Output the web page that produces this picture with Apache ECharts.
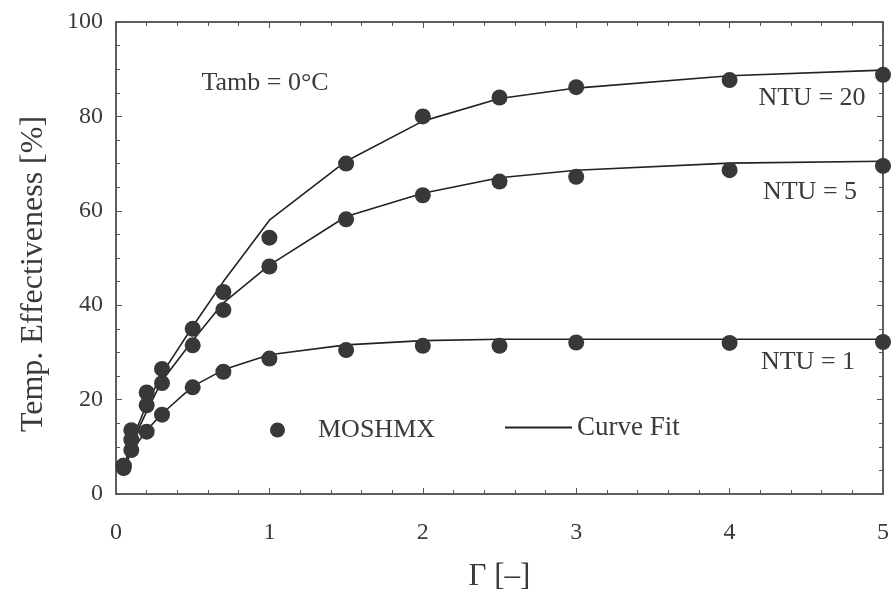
<!DOCTYPE html>
<html>
<head>
<meta charset="utf-8">
<script src="https://cdn.jsdelivr.net/npm/echarts@6/dist/echarts.min.js"></script>
<style>
html,body{margin:0;padding:0;background:#fff;}
#chart{width:894px;height:592px;}
</style>
</head>
<body>
<div id="chart"></div>
<script>
// Γ values of the simulated points (MOSHMX)
const gammaValues = [0.05, 0.1, 0.2, 0.3, 0.5, 0.7, 1, 1.5, 2, 2.5, 3, 4, 5];
// MOSHMX points [%]
const ntu20Points = [6, 13.5, 21.5, 26.5, 35, 42.8, 54.3, 70, 80, 84, 86.2, 87.7, 88.8];
const ntu5Points  = [6, 11.5, 18.8, 23.5, 31.5, 39, 48.2, 58.2, 63.3, 66.2, 67.2, 68.6, 69.5];
const ntu1Points  = [5.5, 9.3, 13.2, 16.8, 22.6, 25.9, 28.7, 30.5, 31.4, 31.4, 32.1, 32, 32.2];
// Curve fit values [%]
const ntu20Fit = [5.5, 11, 19, 25.5, 35.5, 45, 58, 70.5, 79, 83.8, 86, 88.6, 89.8];
const ntu5Fit  = [5.5, 10.5, 17.5, 24, 32.5, 40.5, 48.5, 58.8, 63.7, 67, 68.6, 70.1, 70.5];
const ntu1Fit  = [5, 9, 13.5, 17, 22.8, 26.3, 29.5, 31.6, 32.5, 32.8, 32.8, 32.8, 32.8];

const xTicks = [0, 1, 2, 3, 4, 5];
const yTicks = [0, 20, 40, 60, 80, 100];
const curveLabels = ['NTU = 20', 'NTU = 5', 'NTU = 1'];
const annotation = 'Tamb = 0°C';
const xTitle = 'Γ [–]';
const yTitle = 'Temp. Effectiveness [%]';

const pair = (xs, ys) => xs.map((x, i) => [x, ys[i]]);

const FONT = '"Liberation Serif", "DejaVu Serif", serif';
const TXT = '#3a3a3a';
const AX = '#555';

const chart = echarts.init(document.getElementById('chart'));

function fitSeries(ys) {
  return {
    type: 'line', name: 'Curve Fit', data: pair(gammaValues, ys),
    xAxisIndex: 0, yAxisIndex: 0,
    symbol: 'none', smooth: false, z: 2,
    itemStyle: {color: '#222'},
    lineStyle: {color: '#222', width: 1.6}
  };
}
function pointSeries(ys) {
  return {
    type: 'scatter', name: 'MOSHMX', data: pair(gammaValues, ys),
    xAxisIndex: 0, yAxisIndex: 0,
    symbol: 'circle', symbolSize: 16, z: 3,
    itemStyle: {color: '#383838', opacity: 1}
  };
}

const X0 = xTicks[0], X1 = xTicks[xTicks.length - 1];
const Y0 = yTicks[0], Y1 = yTicks[yTicks.length - 1];
const lineStyle = {color: AX, width: 1.5};
const noTick = {show: false};
const tick = {show: true, inside: false, length: 6, lineStyle: {color: AX, width: 1}};
const xMinor = {show: true, splitNumber: 5, length: 4, lineStyle: {color: AX, width: 1}};
const yMinor = {show: true, splitNumber: 4, length: 4, lineStyle: {color: AX, width: 1}};
const hiddenLabel = {show: false};
const noSplit = {show: false};

chart.setOption({
  animation: false,
  backgroundColor: '#fff',
  textStyle: {fontFamily: FONT},
  grid: {left: 116, right: 11, top: 22, bottom: 98, containLabel: false, outerBoundsMode: 'none'},
  xAxis: [
    { // 0: bottom frame + labels
      type: 'value', min: X0, max: X1, interval: 1, position: 'bottom',
      axisLine: {show: true, onZero: false, lineStyle: lineStyle},
      axisTick: noTick, minorTick: {show: false}, splitLine: noSplit,
      axisLabel: {color: TXT, fontFamily: FONT, fontSize: 24, margin: 27},
      name: xTitle, nameLocation: 'middle', nameGap: 67,
      nameTextStyle: {color: TXT, fontFamily: FONT, fontSize: 31}
    },
    { // 1: top frame
      type: 'value', min: X0, max: X1, interval: 1, position: 'top',
      axisLine: {show: true, onZero: false, lineStyle: lineStyle},
      axisTick: noTick, minorTick: {show: false}, axisLabel: hiddenLabel, splitLine: noSplit
    },
    { // 2: ticks pointing up from the bottom frame
      type: 'value', min: X0, max: X1, interval: 1, position: 'top',
      axisLine: {show: true, onZero: true, onZeroAxisIndex: 0, lineStyle: lineStyle},
      axisTick: tick, minorTick: xMinor, axisLabel: hiddenLabel, splitLine: noSplit
    },
    { // 3: ticks pointing down from the top frame
      type: 'value', min: X0, max: X1, interval: 1, position: 'bottom',
      axisLine: {show: true, onZero: true, onZeroAxisIndex: 2, lineStyle: lineStyle},
      axisTick: tick, minorTick: xMinor, axisLabel: hiddenLabel, splitLine: noSplit
    },
    { // 4: helper scale whose zero is on the right frame
      type: 'value', min: -X1, max: 0, show: false
    }
  ],
  yAxis: [
    { // 0: left frame + labels
      type: 'value', min: Y0, max: Y1, interval: 20, position: 'left',
      axisLine: {show: true, onZero: false, lineStyle: lineStyle},
      axisTick: noTick, minorTick: {show: false}, splitLine: noSplit,
      axisLabel: {color: TXT, fontFamily: FONT, fontSize: 24, margin: 13}
    },
    { // 1: right frame
      type: 'value', min: Y0, max: Y1, interval: 20, position: 'right',
      axisLine: {show: true, onZero: false, lineStyle: lineStyle},
      axisTick: noTick, minorTick: {show: false}, axisLabel: hiddenLabel, splitLine: noSplit
    },
    { // 2: helper scale whose zero is on the top frame
      type: 'value', min: -Y1, max: 0, show: false
    },
    { // 3: ticks pointing right from the left frame
      type: 'value', min: Y0, max: Y1, interval: 20, position: 'right',
      axisLine: {show: true, onZero: true, onZeroAxisIndex: 0, lineStyle: lineStyle},
      axisTick: tick, minorTick: yMinor, axisLabel: hiddenLabel, splitLine: noSplit
    },
    { // 4: ticks pointing left from the right frame
      type: 'value', min: Y0, max: Y1, interval: 20, position: 'left',
      axisLine: {show: true, onZero: true, onZeroAxisIndex: 4, lineStyle: lineStyle},
      axisTick: tick, minorTick: yMinor, axisLabel: hiddenLabel, splitLine: noSplit
    }
  ],
  legend: [
    {
      data: [{name: 'MOSHMX', icon: 'circle'}],
      left: 270, top: 417, padding: 0, itemWidth: 15, itemHeight: 15, selectedMode: false,
      textStyle: {color: TXT, fontFamily: FONT, fontSize: 26, padding: [0, 0, 0, 28]}
    },
    {
      data: [{name: 'Curve Fit', icon: 'rect'}],
      left: 505, top: 414, padding: 0, itemWidth: 67, itemHeight: 2, selectedMode: false,
      textStyle: {color: TXT, fontFamily: FONT, fontSize: 27}
    }
  ],
  graphic: [
    {type: 'text', x: 34, y: 274, rotation: Math.PI / 2,
     style: {text: yTitle, font: '32px ' + FONT, fill: TXT, align: 'center', verticalAlign: 'middle'}},
    {type: 'text', x: 265, y: 83, style: {text: annotation, font: '26px ' + FONT, fill: TXT, align: 'center', verticalAlign: 'middle'}},
    {type: 'text', x: 812, y: 98, style: {text: curveLabels[0], font: '26px ' + FONT, fill: TXT, align: 'center', verticalAlign: 'middle'}},
    {type: 'text', x: 810, y: 192, style: {text: curveLabels[1], font: '26px ' + FONT, fill: TXT, align: 'center', verticalAlign: 'middle'}},
    {type: 'text', x: 808, y: 362, style: {text: curveLabels[2], font: '26px ' + FONT, fill: TXT, align: 'center', verticalAlign: 'middle'}}
  ],
  series: [
    fitSeries(ntu20Fit), fitSeries(ntu5Fit), fitSeries(ntu1Fit),
    pointSeries(ntu20Points), pointSeries(ntu5Points), pointSeries(ntu1Points)
  ]
});
</script>
</body>
</html>
